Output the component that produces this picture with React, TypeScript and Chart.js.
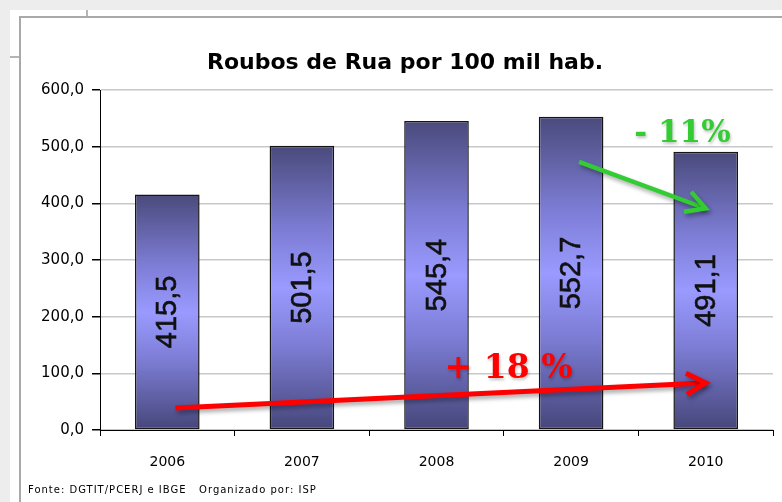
import React, { useEffect, useRef } from "react";
import { Chart, registerables } from "chart.js";

Chart.register(...registerables);

const TITLE = "Roubos de Rua por 100 mil hab.";
const SOURCE = "Fonte: DGTIT/PCERJ e IBGE   Organizado por: ISP";
const years = ["2006", "2007", "2008", "2009", "2010"];
const rates = [415.5, 501.5, 545.4, 552.7, 491.1];
const yMin = 0;
const yMax = 600;
const yStep = 100;

// Annotation arrows, in data space: [category index, value]
const arrowFrom = [
  [0.06, 39],
  [3.06, 473],
];
const arrowTo = [
  [4.0, 83],
  [4.0, 391],
];
const arrowColors = ["#ff0000", "#33cc33"];
const arrowWidths = [5, 4.5];

// Annotation texts, anchored in data space (left, baseline)
const noteTexts = ["+ 18 %", "- 11%"];
const noteAt = [
  [2.06, 92],
  [3.47, 508],
];
const noteColors = ["#ff0000", "#33cc33"];
const noteSizes = [33, 31];

const fmt = (v: number) => v.toFixed(1).replace(".", ",");

const W = 782;
const H = 502;

export default function App() {
  const ref = useRef<HTMLCanvasElement | null>(null);

  useEffect(() => {
    const canvas = ref.current;
    if (!canvas) return;

    const barGradient = (ctx: any) => {
      const chart = ctx.chart;
      const c = chart.ctx;
      const ys = chart.scales?.y;
      if (!ys || ctx.dataIndex === undefined) return "#7070c0";
      const v = rates[ctx.dataIndex];
      const top = ys.getPixelForValue(v);
      const bot = ys.getPixelForValue(0);
      if (!isFinite(top) || !isFinite(bot)) return "#7070c0";
      const g = c.createLinearGradient(0, top, 0, bot);
      g.addColorStop(0, "#4a4a7c");
      g.addColorStop(0.3, "#7d7dd6");
      g.addColorStop(0.5, "#9a9aff");
      g.addColorStop(0.7, "#7d7dd6");
      g.addColorStop(1, "#46467a");
      return g;
    };

    const decor = {
      id: "decor",
      afterDatasetsDraw(chart: any) {
        const c = chart.ctx;
        const xs = chart.scales.x;
        const ys = chart.scales.y;
        // value labels inside bars
        const meta = chart.getDatasetMeta(0);
        c.save();
        c.fillStyle = "#111";
        c.strokeStyle = "#111";
        c.lineWidth = 0.6;
        c.font = "29px 'Liberation Sans', Arial, sans-serif";
        c.textAlign = "center";
        c.textBaseline = "middle";
        meta.data.forEach((bar: any, i: number) => {
          const cy = (bar.y + bar.base) / 2;
          c.save();
          c.translate(bar.x, cy);
          c.rotate(-Math.PI / 2);
          c.fillText(fmt(rates[i]), 0, 1);
          c.strokeText(fmt(rates[i]), 0, 1);
          c.restore();
        });
        c.restore();

        const px = (p: number[]) => {
          const cw = xs.getPixelForValue(1) - xs.getPixelForValue(0);
          return [xs.getPixelForValue(0) + p[0] * cw, ys.getPixelForValue(p[1])];
        };

        // arrows
        arrowFrom.forEach((f, i) => {
          const [x1, y1] = px(f);
          const [x2, y2] = px(arrowTo[i]);
          const ang = Math.atan2(y2 - y1, x2 - x1);
          const hl = 22;
          const ha = 0.5;
          c.save();
          c.strokeStyle = arrowColors[i];
          c.lineWidth = arrowWidths[i];
          c.lineCap = "butt";
          c.lineJoin = "miter";
          c.shadowColor = "rgba(0,0,0,0.35)";
          c.shadowBlur = 4;
          c.shadowOffsetX = 2;
          c.shadowOffsetY = 3;
          c.beginPath();
          c.moveTo(x1, y1);
          c.lineTo(x2 - Math.cos(ang) * 2, y2 - Math.sin(ang) * 2);
          c.stroke();
          c.beginPath();
          c.moveTo(x2 - hl * Math.cos(ang - ha), y2 - hl * Math.sin(ang - ha));
          c.lineTo(x2, y2);
          c.lineTo(x2 - hl * Math.cos(ang + ha), y2 - hl * Math.sin(ang + ha));
          c.stroke();
          c.restore();
        });

        // notes
        noteTexts.forEach((t, i) => {
          const [x, y] = px(noteAt[i]);
          c.save();
          c.font = `bold ${noteSizes[i]}px 'DejaVu Serif', serif`;
          c.fillStyle = noteColors[i];
          c.textAlign = "left";
          c.textBaseline = "alphabetic";
          c.shadowColor = "rgba(0,0,0,0.25)";
          c.shadowBlur = 3;
          c.shadowOffsetX = 1;
          c.shadowOffsetY = 2;
          c.fillText(t, x, y);
          c.restore();
        });

        // title
        c.save();
        c.font = "bold 22px 'DejaVu Sans', sans-serif";
        c.fillStyle = "#000";
        c.textAlign = "center";
        c.textBaseline = "alphabetic";
        c.fillText(TITLE, 405, 69);
        // source
        c.font = "10px 'DejaVu Sans', sans-serif";
        c.textAlign = "left";
        try {
          (c as any).letterSpacing = "1px";
        } catch (e) {}
        c.fillText(SOURCE, 28, 493);
        c.restore();
      },
    };

    const chart = new Chart(canvas, {
      type: "bar",
      data: {
        labels: years,
        datasets: [
          {
            data: rates,
            backgroundColor: barGradient as any,
            borderColor: "#151515",
            borderWidth: 1.5,
            borderSkipped: false,
            categoryPercentage: 1,
            barPercentage: 0.48,
          },
        ],
      },
      options: {
        responsive: false,
        animation: false,
        devicePixelRatio: 1,
        layout: { padding: { top: 90, right: 9, left: 0, bottom: 0 } },
        plugins: {
          legend: { display: false },
          title: { display: false },
          tooltip: { enabled: false },
        },
        scales: {
          x: {
            afterFit: (s: any) => {
              s.height = 72;
            },
            grid: {
              display: true,
              drawOnChartArea: false,
              offset: true,
              tickLength: 6,
              tickColor: "#000",
            },
            border: { display: true, color: "#000", width: 1 },
            ticks: {
              color: "#000",
              padding: 18,
              font: { family: "'DejaVu Sans', sans-serif", size: 14 },
            },
          },
          y: {
            min: yMin,
            max: yMax,
            afterFit: (s: any) => {
              s.width = 100;
            },
            grid: {
              color: "#c8c8c8",
              lineWidth: 1.5,
              tickColor: "#000",
              tickLength: 8,
            },
            border: { display: true, color: "#000", width: 1 },
            ticks: {
              stepSize: yStep,
              color: "#000",
              padding: 8,
              callback: (v: any) => fmt(Number(v)),
              font: { family: "'DejaVu Sans', sans-serif", size: 15 },
            },
          },
        },
      },
      plugins: [decor],
    });

    return () => chart.destroy();
  }, []);

  return (
    <div
      style={{
        position: "fixed",
        left: 0,
        top: 0,
        width: W,
        height: H,
        background: "#ededed",
        overflow: "hidden",
      }}
    >
      <div
        style={{
          position: "absolute",
          left: 10,
          top: 10,
          right: 0,
          bottom: 0,
          background: "#ffffff",
        }}
      />
      <div style={{ position: "absolute", left: 19, top: 16, right: 0, height: 2, background: "#a9a9a9" }} />
      <div style={{ position: "absolute", left: 19, top: 16, width: 2, bottom: 0, background: "#a9a9a9" }} />
      <div style={{ position: "absolute", left: 10, top: 56, width: 9, height: 2, background: "#b5b5b5" }} />
      <div style={{ position: "absolute", left: 86, top: 10, width: 2, height: 6, background: "#b5b5b5" }} />
      <canvas
        ref={ref}
        width={W}
        height={H}
        style={{ position: "absolute", left: 0, top: 0, width: W, height: H }}
      />
    </div>
  );
}
